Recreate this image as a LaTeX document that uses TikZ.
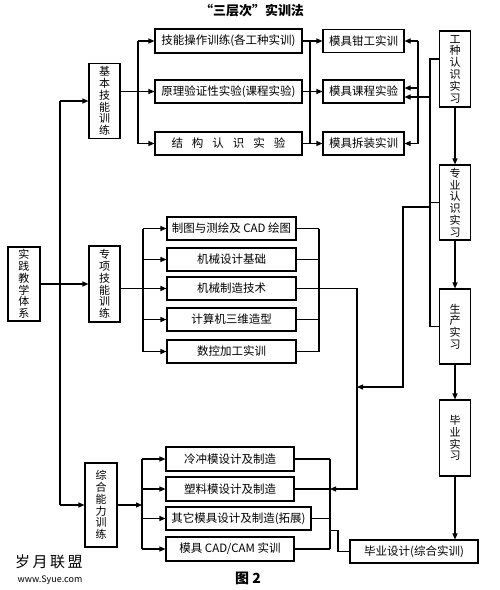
\documentclass[tikz,border=0pt]{standalone}
\usepackage{fontspec}
\setmainfont{Noto Sans CJK SC}
\usetikzlibrary{positioning,calc,arrows.meta}

\tikzset{
  box/.style={draw, line width=1.1pt, inner sep=0pt, font=\fontsize{11.5}{13}\selectfont},
  vbox/.style={box, align=center, minimum width=31pt, font=\fontsize{11}{11.8}\selectfont},
  arr/.style={-{Triangle[length=6pt,width=5pt]}}
}

\begin{document}
\begin{tikzpicture}[x=1pt, y=-1pt, line width=1.1pt]
  \useasboundingbox (0,0) rectangle (500,590);

  % Title
  \node[font=\bfseries\fontsize{13}{15}\selectfont] (title) at (252,11) {“三层次”实训法};

  % Root and the three training levels
  \node[vbox, minimum width=32pt, minimum height=74pt] (sjtx) at (24,284) {实\\践\\教\\学\\体\\系};
  \node[vbox, minimum height=75pt] (jbjn) at (104.5,101) {基\\本\\技\\能\\训\\练};
  \node[vbox, minimum height=76pt] (zxjn) at (104.5,284) {专\\项\\技\\能\\训\\练};
  \node[vbox, minimum width=32pt, minimum height=84pt] (zhnl) at (101,505) {综\\合\\能\\力\\训\\练};

  % Basic skills
  \node[box, minimum width=147pt, minimum height=24pt] (jncz) at (228.5,41) {技能操作训练(各工种实训)};
  \node[box, minimum width=147pt, minimum height=23pt] (ylyz) at (228.5,91.5) {原理验证性实验(课程实验)};
  \node[box, minimum width=147pt, minimum height=23pt] (jgrs) at (228.5,143.5) {结\hspace{9pt}构\hspace{9pt}认\hspace{9pt}识\hspace{9pt}实\hspace{9pt}验};
  \node[box, minimum width=81pt, minimum height=23pt] (mjqg) at (363.5,41) {模具钳工实训};
  \node[box, minimum width=81pt, minimum height=23pt] (mjkc) at (363.5,91.5) {模具课程实验};
  \node[box, minimum width=81pt, minimum height=23pt] (mjcz) at (363.5,143.5) {模具拆装实训};

  % Special skills
  \node[box, minimum width=129pt, minimum height=23pt] (ztch) at (231.5,228.5) {制图与测绘及 CAD 绘图};
  \node[box, minimum width=129pt, minimum height=23pt] (jxsj) at (231.5,259.5) {机械设计基础};
  \node[box, minimum width=129pt, minimum height=23pt] (jxzz) at (231.5,288.5) {机械制造技术};
  \node[box, minimum width=129pt, minimum height=23pt] (jsjsw) at (231.5,319.5) {计算机三维造型};
  \node[box, minimum width=129pt, minimum height=23pt] (skjg) at (231.5,351.5) {数控加工实训};

  % Comprehensive ability
  \node[box, minimum width=128pt, minimum height=24pt] (lcm) at (230,459) {冷冲模设计及制造};
  \node[box, minimum width=128pt, minimum height=24pt] (slm) at (230,489) {塑料模设计及制造};
  \node[box, minimum width=145pt, minimum height=23pt] (qtmj) at (238.5,518.5) {其它模具设计及制造(拓展)};
  \node[box, minimum width=128pt, minimum height=24pt] (mjcad) at (230,549) {模具 CAD/CAM 实训};

  % Practice column
  \node[vbox, minimum height=76pt] (gzrs) at (455,69) {工\\种\\认\\识\\实\\习};
  \node[vbox, minimum height=75pt] (zyrs) at (455,202.5) {专\\业\\认\\识\\实\\习};
  \node[vbox, minimum height=75pt] (scsx) at (455,326.5) {生\\产\\实\\习};
  \node[vbox, minimum height=76pt] (bysx) at (455,438) {毕\\业\\实\\习};
  \node[box, minimum width=128pt, minimum height=23pt] (bysj) at (414,551.5) {毕业设计(综合实训)};

  % Caption and watermark
  \node[font=\bfseries\fontsize{14}{16}\selectfont] (fig) at (248,578) {图 2};
  \node[font=\fontsize{15}{17}\selectfont] (wm1) at (49,562) {岁\,月\,联\,盟};
  \node[font=\fontsize{9}{11}\selectfont] (wm2) at (50,580) {www.Syue.com};

  % Bus positions
  \coordinate (spine) at (60,0);
  \coordinate (busa) at (138,0);
  \coordinate (busb) at (310,0);
  \coordinate (busc) at (418,0);
  \coordinate (busd) at (430,0);
  \coordinate (buse) at (403,0);
  \coordinate (busf) at (357,0);
  \coordinate (busg) at (143,0);
  \coordinate (bush) at (319,0);
  \coordinate (busi) at (330,0);
  \coordinate (busj) at (142,0);

  % Root spine
  \draw[arr] (sjtx) -- (zxjn);
  \draw (spine |- jbjn.west) -- (spine |- zhnl.west);
  \draw[arr] (spine |- jbjn.west) -- (jbjn.west);
  \draw[arr] (spine |- zhnl.west) -- (zhnl.west);

  % Basic skills links
  \draw[arr] ([yshift=9.5pt]jbjn.east) -- (ylyz.west);
  \draw (busa |- jncz.west) -- (busa |- jgrs.west);
  \draw[arr] (busa |- jncz.west) -- (jncz.west);
  \draw[arr] (busa |- jgrs.west) -- (jgrs.west);
  \foreach \a/\b in {jncz/mjqg, ylyz/mjkc, jgrs/mjcz}
    \draw[arr] (\a.east) -- (\b.west);
  \draw (busb |- jncz.east) -- (busb |- jgrs.east);

  % Feedback into mould training
  \coordinate (mk1) at ([yshift=3.5pt]mjkc.east);
  \coordinate (mk2) at ([yshift=-5.5pt]mjkc.east);
  \draw (busc |- mjqg.east) -- (busc |- mjcz.east);
  \draw[arr] (busc |- mjqg.east) -- (mjqg.east);
  \draw[arr] (busc |- mk1) -- (mk1);
  \draw[arr] (busc |- mjcz.east) -- (mjcz.east);
  \draw[arr] (busd |- mk2) -- (mk2);

  % Practice column links
  \coordinate (gz1) at ([yshift=10pt]gzrs.west);
  \draw (gz1) -| (busd |- scsx.west) -- (scsx.west);
  \draw (zyrs.west) -- (busd |- zyrs.west);
  \foreach \a/\b in {gzrs/zyrs, zyrs/scsx, scsx/bysx}
    \draw[arr] (\a) -- (\b);
  \draw[arr] (bysx) -- (bysx |- bysj.north);

  % Practice into the comprehensive level
  \coordinate (ze1) at ([yshift=-4.5pt]zyrs.west);
  \coordinate (turn) at (403,387);
  \draw[arr] (busd |- ze1) -| (turn) -- (busf |- turn);

  % Special skills links
  \draw[arr] ([yshift=-4.5pt]zxjn.east) -- (jxzz.west);
  \draw (busg |- ztch.west) -- (busg |- skjg.west);
  \foreach \n in {ztch, jxsj, jsjsw, skjg}
    \draw[arr] (busg |- \n.west) -- (\n.west);
  \foreach \n in {ztch, jxsj, jxzz, jsjsw, skjg}
    \draw (\n.east) -- (bush |- \n.east);
  \draw (bush |- ztch.east) -- (bush |- skjg.east);
  \draw[arr] (bush |- jxzz.east) -| (busf |- slm.east) -- (busi |- slm.east);

  % Comprehensive links
  \draw[arr] (zhnl.east) -- (busj |- zhnl.east);
  \draw (busj |- lcm.west) -- (busj |- mjcad.west);
  \foreach \n in {lcm, slm, qtmj, mjcad}
    \draw[arr] (busj |- \n.west) -- (\n.west);
  \foreach \n in {lcm, slm, qtmj, mjcad}
    \draw (\n.east) -- (busi |- \n.east);
  \draw (busi |- lcm.east) -- (busi |- mjcad.east);
  \draw (busi |- qtmj.south) -- ++(8,0) |- (bysj.west);
\end{tikzpicture}
\end{document}
